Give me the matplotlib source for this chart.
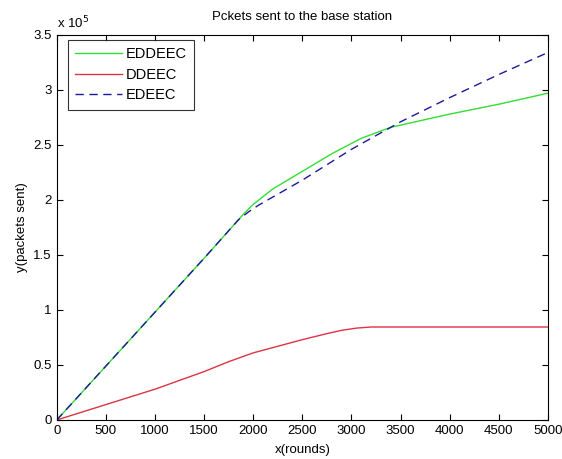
import matplotlib
matplotlib.use("Agg")
import matplotlib.pyplot as plt
from matplotlib.ticker import FuncFormatter, MultipleLocator

plt.rcParams['font.family'] = ['Liberation Sans', 'DejaVu Sans']

# data (packets sent, x rounds)
x_eddeec = [0, 500, 1000, 1500, 1900, 2000, 2200, 2500, 2800, 3100, 3400, 4000, 4500, 5000]
y_eddeec = [0, 0.49e5, 0.98e5, 1.47e5, 1.87e5, 1.96e5, 2.10e5, 2.26e5, 2.42e5, 2.56e5, 2.66e5, 2.78e5, 2.87e5, 2.97e5]

x_ddeec = [0, 500, 1000, 1500, 1750, 2000, 2250, 2500, 2750, 2900, 3050, 3200, 5000]
y_ddeec = [0, 0.14e5, 0.28e5, 0.44e5, 0.53e5, 0.61e5, 0.67e5, 0.73e5, 0.785e5, 0.815e5, 0.835e5, 0.845e5, 0.845e5]

x_edeec = [0, 500, 1000, 1500, 1850, 1950, 2050, 2500, 3000, 3500, 4000, 4500, 5000]
y_edeec = [0, 0.49e5, 0.98e5, 1.47e5, 1.82e5, 1.89e5, 1.95e5, 2.18e5, 2.46e5, 2.71e5, 2.93e5, 3.14e5, 3.34e5]

fig = plt.figure(figsize=(5.62, 4.59), dpi=100)
ax = fig.add_axes([0.101, 0.085, 0.874, 0.839])

ax.plot(x_eddeec, y_eddeec, color='#33dd33', lw=1.0, label='EDDEEC')
ax.plot(x_ddeec, y_ddeec, color='#dd3344', lw=1.0, label='DDEEC')
ax.plot(x_edeec, y_edeec, color='#1a1a99', lw=1.0, ls=(0, (6, 4)), label='EDEEC')

ax.set_xlim(0, 5000)
ax.set_ylim(0, 3.5e5)
ax.xaxis.set_major_locator(MultipleLocator(500))
ax.yaxis.set_major_locator(MultipleLocator(0.5e5))
ax.yaxis.set_major_formatter(FuncFormatter(lambda v, p: '%g' % (v / 1e5)))
ax.tick_params(direction='in', top=True, right=True, labelsize=9.5, length=4, width=0.8)
for s in ax.spines.values():
    s.set_linewidth(0.8)

ax.text(0.0, 1.01, 'x 10$^5$', transform=ax.transAxes, fontsize=9.5, ha='left', va='bottom')
ax.set_title('Pckets sent to the base station', fontsize=9.5, pad=11)
ax.set_xlabel('x(rounds)', fontsize=9.5, labelpad=5)
ax.set_ylabel('y(packets sent)', fontsize=9.5, labelpad=4)

leg = ax.legend(loc='upper left', bbox_to_anchor=(11 / 491, 1 - 5 / 385), borderaxespad=0,
                fontsize=10.5, fancybox=False, edgecolor='black',
                handlelength=3.2, labelspacing=0.45, handletextpad=0.3, borderpad=0.5)
leg.get_frame().set_linewidth(0.8)

fig.savefig('out.png', dpi=100)
